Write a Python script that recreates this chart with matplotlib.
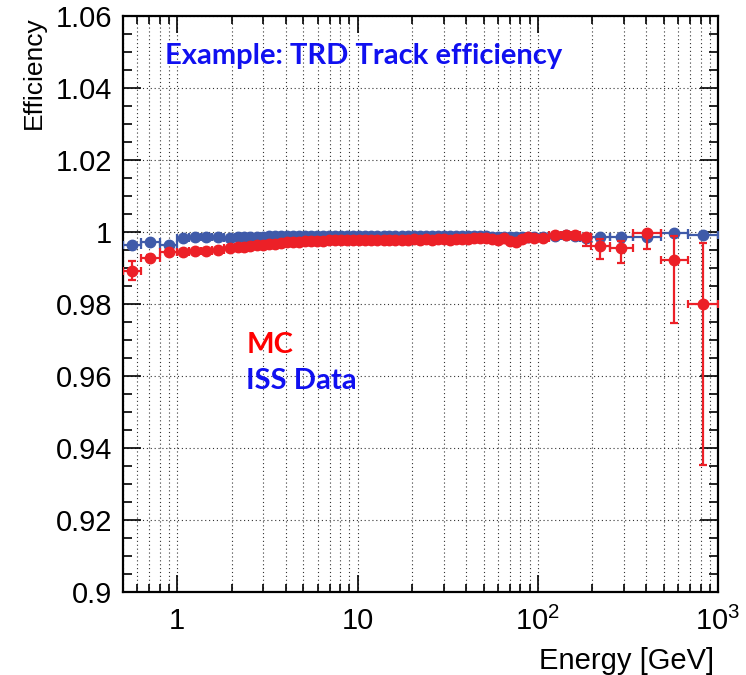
import numpy as np
import matplotlib
matplotlib.use("Agg")
import matplotlib.pyplot as plt

# bin edges in energy [GeV]
edges = [0.5, 0.63, 0.8, 1.0, 1.16, 1.35, 1.56, 1.81,
         2.1, 2.27, 2.45, 2.65, 2.86, 3.09, 3.34, 3.61, 3.9, 4.21,
         4.55, 4.91, 5.3, 5.73, 6.19, 6.68, 7.22, 7.8, 8.42, 9.1,
         9.83, 10.6, 11.5, 12.4, 13.4, 14.5, 15.6, 16.9, 18.2, 19.7,
         21.3, 23.0, 24.8, 26.8, 29.0, 31.3, 33.8, 36.5, 39.4, 42.6,
         46.0, 49.7, 53.6, 57.9, 62.6, 67.6, 73.0, 78.8, 85.1, 91.9,
         99.7, 116, 134, 152, 172, 197, 251, 337, 482, 678, 1000]

# MC efficiency (red)
mc_eff = [0.9893, 0.9928, 0.9944, 0.9945, 0.9947, 0.9948, 0.9951, 0.9955,
          0.9957, 0.9959, 0.9961, 0.9963, 0.9965, 0.9967, 0.9968, 0.9970, 0.9971, 0.9972,
          0.9973, 0.9974, 0.9975, 0.9976, 0.9976, 0.9977, 0.9977, 0.9978, 0.9977, 0.9978,
          0.9978, 0.9979, 0.9978, 0.9979, 0.9978, 0.9979, 0.9979, 0.9978, 0.9979, 0.9980,
          0.9979, 0.9980, 0.9979, 0.9980, 0.9980, 0.9979, 0.9981, 0.9980, 0.9980, 0.9982,
          0.9984, 0.9983, 0.9980, 0.9979, 0.9984, 0.9974, 0.9971, 0.9980, 0.9985, 0.9983,
          0.9982, 0.9993, 0.9991, 0.9993, 0.9985, 0.9960, 0.99558, 0.9998, 0.9923, 0.9800]
mc_err_lo = [0.0027, 0.0008, 0.0005, 0.0004, 0.0003, 0.0003, 0.0003, 0.0003,
             0.0003, 0.0003, 0.0003, 0.0003, 0.0003, 0.0003, 0.0003, 0.0003, 0.0003, 0.0003,
             0.0003, 0.0003, 0.0003, 0.0003, 0.0003, 0.0003, 0.0003, 0.0003, 0.0003, 0.0003,
             0.0003, 0.0003, 0.0003, 0.0003, 0.0003, 0.0003, 0.0003, 0.0003, 0.0003, 0.0003,
             0.0004, 0.0004, 0.0004, 0.0004, 0.0004, 0.0004, 0.0004, 0.0004, 0.0004, 0.0004,
             0.0005, 0.0005, 0.0005, 0.0006, 0.0006, 0.0006, 0.0006, 0.0006, 0.0006, 0.0006,
             0.0007, 0.0008, 0.0009, 0.0010, 0.0023, 0.0035, 0.0042, 0.0045, 0.0175, 0.0447]
mc_err_hi = [0.0027, 0.0008, 0.0005, 0.0004, 0.0003, 0.0003, 0.0003, 0.0003,
             0.0003, 0.0003, 0.0003, 0.0003, 0.0003, 0.0003, 0.0003, 0.0003, 0.0003, 0.0003,
             0.0003, 0.0003, 0.0003, 0.0003, 0.0003, 0.0003, 0.0003, 0.0003, 0.0003, 0.0003,
             0.0003, 0.0003, 0.0003, 0.0003, 0.0003, 0.0003, 0.0003, 0.0003, 0.0003, 0.0003,
             0.0004, 0.0004, 0.0004, 0.0004, 0.0004, 0.0004, 0.0004, 0.0004, 0.0004, 0.0004,
             0.0005, 0.0005, 0.0005, 0.0006, 0.0006, 0.0006, 0.0006, 0.0006, 0.0006, 0.0006,
             0.0007, 0.0005, 0.0006, 0.0005, 0.0008, 0.0021, 0.0018, 0.0005, 0.0065, 0.0170]

# ISS data efficiency (blue)
iss_eff = [0.9965, 0.9972, 0.9964, 0.9984, 0.9985, 0.9985, 0.9985, 0.9983,
           0.9985, 0.9986, 0.9986, 0.9987, 0.9987, 0.9988, 0.9988, 0.9989, 0.9989, 0.9989,
           0.9990, 0.9990, 0.9990, 0.9990, 0.9990, 0.9990, 0.9990, 0.9990, 0.9990, 0.9990,
           0.9990, 0.9990, 0.9990, 0.9990, 0.9990, 0.9990, 0.9990, 0.9990, 0.9990, 0.9990,
           0.9990, 0.9990, 0.9990, 0.9990, 0.9989, 0.9989, 0.9989, 0.9989, 0.9989, 0.9988,
           0.9988, 0.9988, 0.9987, 0.9986, 0.9986, 0.9985, 0.9985, 0.9986, 0.9987, 0.9987,
           0.9987, 0.9990, 0.9991, 0.9990, 0.9983, 0.9985, 0.9985, 0.9985, 0.9998, 0.9993]
iss_err = [0.0004, 0.0003, 0.0003, 0.0002, 0.0002, 0.0002, 0.0002, 0.0002,
           0.0002, 0.0002, 0.0002, 0.0002, 0.0002, 0.0002, 0.0002, 0.0002, 0.0002, 0.0002,
           0.0002, 0.0002, 0.0002, 0.0002, 0.0002, 0.0002, 0.0002, 0.0002, 0.0002, 0.0002,
           0.0002, 0.0002, 0.0002, 0.0002, 0.0002, 0.0002, 0.0002, 0.0002, 0.0002, 0.0002,
           0.0002, 0.0002, 0.0002, 0.0002, 0.0002, 0.0002, 0.0002, 0.0002, 0.0002, 0.0002,
           0.0002, 0.0002, 0.0002, 0.0002, 0.0002, 0.0002, 0.0002, 0.0002, 0.0002, 0.0002,
           0.0003, 0.0003, 0.0003, 0.0003, 0.0004, 0.0004, 0.0005, 0.0005, 0.0006, 0.0008]

xtick_vals = [1, 10, 100, 1000]
xtick_labels = ['1', '10', '$10^{2}$', '$10^{3}$']
ytick_vals = [0.9, 0.92, 0.94, 0.96, 0.98, 1.0, 1.02, 1.04, 1.06]
ytick_labels = ['0.9', '0.92', '0.94', '0.96', '0.98', '1', '1.02', '1.04', '1.06']

plt.rcParams['font.family'] = ['Liberation Sans', 'DejaVu Sans']
plt.rcParams['mathtext.fontset'] = 'custom'
plt.rcParams['mathtext.rm'] = 'Liberation Sans'
plt.rcParams['mathtext.default'] = 'regular'

edges = np.array(edges)
lo = edges[:-1]
hi = edges[1:]
xc = np.sqrt(lo * hi)

fig = plt.figure(figsize=(7.46, 6.75), dpi=100)
ax = fig.add_axes([0.1649, 0.1230, 0.7976, 0.8533])

red = '#ec2027'
blue = '#3f5aa9'

ax.errorbar(xc, iss_eff, xerr=[xc - lo, hi - xc], yerr=iss_err, fmt='o', color=blue,
            ms=7.5, elinewidth=1.6, capsize=3, capthick=1.6, zorder=3)
ax.errorbar(xc, mc_eff, xerr=[xc - lo, hi - xc], yerr=[mc_err_lo, mc_err_hi], fmt='o',
            color=red, ms=7.5, elinewidth=1.6, capsize=3, capthick=1.6, zorder=4)

ax.set_xscale('log')
ax.set_xlim(0.5, 1000)
ax.set_ylim(0.9, 1.06)
ax.set_xticks(xtick_vals, xtick_labels)
ax.set_yticks(ytick_vals, ytick_labels)
ax.xaxis.set_minor_locator(matplotlib.ticker.LogLocator(base=10, subs=np.arange(2, 10)))
ax.xaxis.set_minor_formatter(matplotlib.ticker.NullFormatter())
ax.yaxis.set_minor_locator(matplotlib.ticker.MultipleLocator(0.005))

ax.tick_params(which='both', direction='in', top=True, right=True, labelsize=21, width=1.2)
ax.tick_params(axis='x', which='major', length=12, pad=11)
ax.tick_params(axis='x', which='minor', length=6)
ax.tick_params(axis='y', which='major', length=13, pad=8)
ax.tick_params(axis='y', which='minor', length=6.5)
for s in ax.spines.values():
    s.set_linewidth(1.6)

# dotted grid like ROOT
ax.grid(True, which='both', axis='x', ls=(0, (1, 2.5)), color='#333333', lw=0.8)
ax.grid(True, which='major', axis='y', ls=(0, (1, 2.5)), color='#333333', lw=0.8)
ax.set_axisbelow(True)

ax.set_xlabel('Energy [GeV]', fontsize=21, loc='right')
ax.set_ylabel('Efficiency', fontsize=19, loc='top')
ax.yaxis.set_label_coords(-0.13, 1.0)
ax.xaxis.set_label_coords(0.993, -0.095)

ax.text(0.0706, 0.930, 'Example: TRD Track efficiency', transform=ax.transAxes,
        fontsize=21, fontweight='bold', color='#1010f0', family='Lato', va='center')
ax.text(0.207, 0.429, 'MC', transform=ax.transAxes, fontsize=21, fontweight='bold',
        color='#ff0000', family='Lato', va='center')
ax.text(0.207, 0.366, 'ISS Data', transform=ax.transAxes, fontsize=21, fontweight='bold',
        color='#1010f0', family='Lato', va='center')

fig.savefig('out.png', dpi=100)
